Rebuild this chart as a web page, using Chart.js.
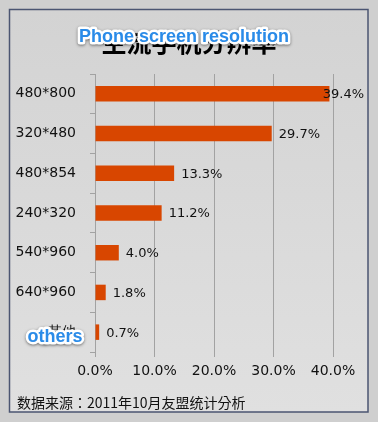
<!DOCTYPE html>
<html>
<head>
<meta charset="utf-8">
<script src="https://cdn.jsdelivr.net/npm/chart.js@4/dist/chart.umd.min.js"></script>
<style>
  html, body { margin: 0; padding: 0; background: #cfcfcf; }
  #wrap { width: 378px; height: 422px; }
</style>
</head>
<body>
<div id="wrap"><canvas id="resChart" width="378" height="422"></canvas></div>
<script>
var resLabels = ['480*800', '320*480', '480*854', '240*320', '540*960', '640*960', '其他'];
var resShare = [39.4, 29.7, 13.3, 11.2, 4.0, 1.8, 0.7];
var xTicks = [0, 10, 20, 30, 40];
var titleText = '主流手机分辨率';
var titleOverlay = 'Phone screen resolution';
var othersOverlay = 'others';
var footerText = '数据来源：2011年10月友盟统计分析';

var ctx = document.getElementById('resChart').getContext('2d');
var gridColor = '#a2a2a2';

// frame, title, value labels and overlays
var decor = {
    id: 'decor',
    beforeDraw: function (chart) {
        var c = chart.ctx;
        c.save();
        var g = c.createLinearGradient(0, 9, 0, 412);
        g.addColorStop(0, '#d3d3d3');
        g.addColorStop(1, '#e0e0e0');
        c.fillStyle = g;
        c.fillRect(9.5, 9.5, 358.5, 402.5);
        c.strokeStyle = '#4b5572';
        c.lineWidth = 1.5;
        c.strokeRect(9.5, 9.5, 358.5, 402.5);
        c.restore();
    },
    afterDatasetsDraw: function (chart) {
        var c = chart.ctx;
        var meta = chart.getDatasetMeta(0);
        c.save();
        c.font = '13px "DejaVu Sans"';
        c.fillStyle = '#111';
        c.textBaseline = 'middle';
        meta.data.forEach(function (bar, i) {
            var txt = resShare[i].toFixed(1) + '%';
            var w = c.measureText(txt).width;
            var x = bar.x + 7;
            if (x + w > 364) x = 364 - w;
            c.fillText(txt, x, bar.y + 1);
        });
        c.restore();
    },
    afterDraw: function (chart) {
        var c = chart.ctx;
        c.save();
        c.textAlign = 'center';
        c.textBaseline = 'middle';
        c.fillStyle = '#000';
        c.font = 'bold 25px "Noto Sans CJK SC"';
        c.fillText(titleText, 189, 42);

        c.textAlign = 'left';
        c.font = '14px "Noto Sans CJK TC"';
        c.fillStyle = '#111';
        c.fillText(footerText, 17, 403);

        function overlay(txt, x, y) {
            c.textAlign = 'center';
            c.textBaseline = 'middle';
            c.font = 'bold 18px "Liberation Sans"';
            c.lineJoin = 'round';
            c.shadowColor = 'rgba(0,0,0,0.5)';
            c.shadowBlur = 3;
            c.shadowOffsetY = 1;
            c.strokeStyle = '#ffffff';
            c.lineWidth = 5;
            c.strokeText(txt, x, y);
            c.shadowColor = 'transparent';
            c.fillStyle = '#2a8be8';
            c.fillText(txt, x, y);
        }
        overlay(titleOverlay, 184, 37);
        overlay(othersOverlay, 55, 337);
        c.restore();
    }
};

var chart = new Chart(ctx, {
    type: 'bar',
    data: {
        labels: resLabels,
        datasets: [{
            data: resShare,
            backgroundColor: '#d84600',
            borderWidth: 0,
            barPercentage: 0.39,
            categoryPercentage: 1
        }]
    },
    options: {
        indexAxis: 'y',
        responsive: false,
        animation: false,
        layout: { padding: { top: 74, left: 9, right: 45, bottom: 40 } },
        plugins: {
            legend: { display: false },
            tooltip: { enabled: false }
        },
        scales: {
            x: {
                min: 0,
                max: 40,
                afterBuildTicks: function (axis) {
                    axis.ticks = xTicks.map(function (v) { return { value: v }; });
                },
                afterFit: function (axis) { axis.height = 30; },
                grid: { color: gridColor, tickLength: 5, drawTicks: true },
                border: { display: false },
                ticks: {
                    padding: 6,
                    color: '#111',
                    font: { family: 'DejaVu Sans', size: 14 },
                    callback: function (v) { return Number(v).toFixed(1) + '%'; }
                }
            },
            y: {
                afterFit: function (axis) { axis.width = 86; },
                grid: { offset: true, drawOnChartArea: false, color: gridColor, tickLength: 5 },
                border: { display: true, color: gridColor },
                ticks: {
                    padding: 14,
                    color: '#111',
                    font: { family: 'DejaVu Sans', size: 14 }
                }
            }
        }
    },
    plugins: [decor]
});
</script>
</body>
</html>
